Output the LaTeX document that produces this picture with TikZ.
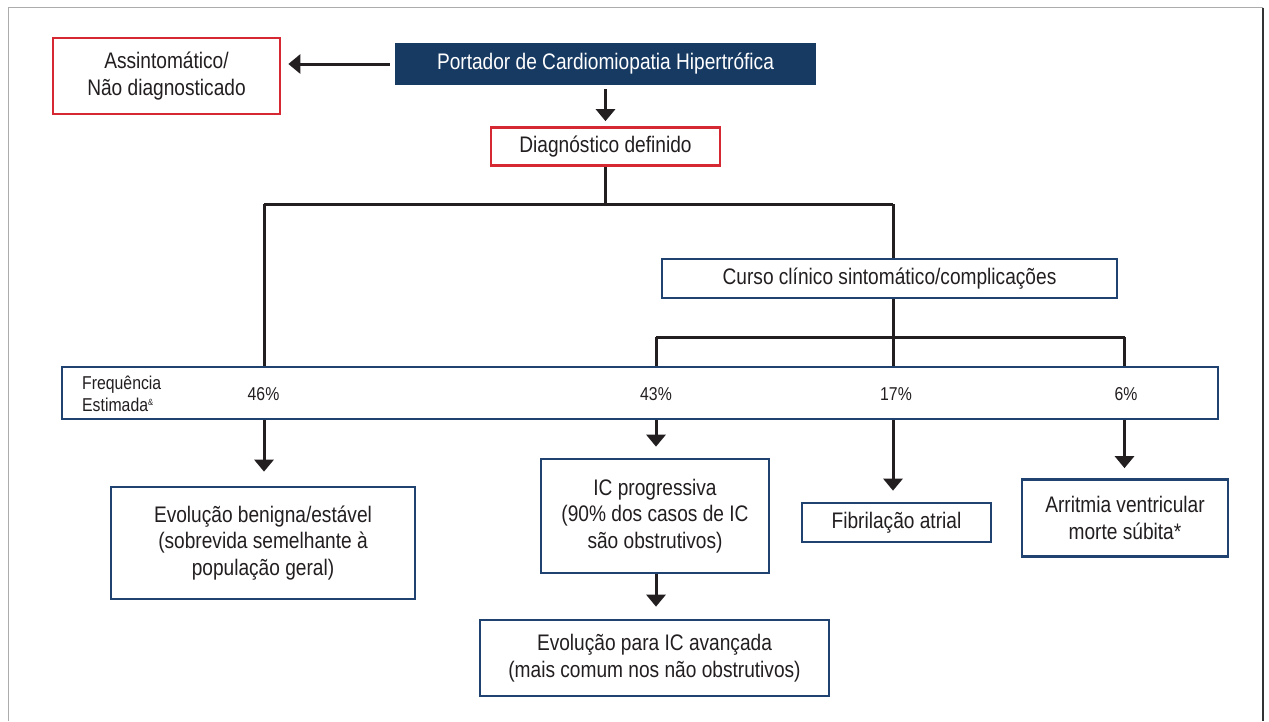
\documentclass[tikz,border=0pt]{standalone}
\usepackage{fontspec}
\setmainfont{Liberation Sans}[FakeStretch=0.85]
\usetikzlibrary{arrows.meta}
\definecolor{redb}{RGB}{214,40,50}
\definecolor{blueb}{RGB}{31,66,112}
\definecolor{bluef}{RGB}{23,58,99}
\definecolor{txt}{RGB}{35,31,32}
\tikzset{
  box/.style={draw, line width=2.7pt, inner sep=0pt, align=center, text=txt,
    font=\fontsize{22.5}{26.5}\selectfont},
  redbox/.style={box, draw=redb},
  bluebox/.style={box, draw=blueb},
  darkbox/.style={box, draw=bluef, fill=bluef, text=white},
  conn/.style={draw=txt, line width=3pt},
  arr/.style={conn, -{Triangle[width=19pt,length=12pt]}},
  pct/.style={text=txt, font=\fontsize{18.6}{22}\selectfont, inner sep=0pt}
}
\begin{document}
\begin{tikzpicture}[x=1pt,y=-1pt]
\useasboundingbox (0,0) rectangle (1269,721);
\fill[white] (0,0) rectangle (1269,721);
\draw[gray!65, line width=1.5pt] (8.5,721) -- (8.5,7.5) -- (1263,7.5);
\draw[black!80, line width=2pt] (1263,7.5) -- (1263,721);

% nodes
\node[redbox, minimum width=227pt, minimum height=76pt] (asym) at (166.5,76) {Assintomático/\\Não diagnosticado};
\node[darkbox, minimum width=419pt, minimum height=40pt] (port) at (605.5,64) {Portador de Cardiomiopatia Hipertrófica};
\node[redbox, minimum width=229pt, minimum height=38pt] (diag) at (605.5,146.5) {Diagnóstico definido};
\node[bluebox, minimum width=455pt, minimum height=39pt] (curso) at (889.5,278.5) {Curso clínico sintomático/complicações};
\node[bluebox, minimum width=1156pt, minimum height=52pt] (bar) at (640,393) {};
\node[bluebox, minimum width=304pt, minimum height=112pt] (benig) at (263,543) {Evolução benigna/estável\\(sobrevida semelhante à\\população geral)};
\node[bluebox, minimum width=228pt, minimum height=114pt] (icprog) at (655,516) {IC progressiva\\(90\% dos casos de IC\\são obstrutivos)};
\node[bluebox, minimum width=189pt, minimum height=39pt] (fib) at (896.5,522.5) {Fibrilação atrial};
\node[bluebox, minimum width=206pt, minimum height=77pt] (arrit) at (1125,518) {Arritmia ventricular\\morte súbita*};
\node[bluebox, minimum width=349pt, minimum height=76pt] (icav) at (654.5,658) {Evolução para IC avançada\\(mais comum nos não obstrutivos)};

% texts inside bar
\node[pct, anchor=west, align=left] (freq) at (82,394) {Frequência\\Estimada\textsuperscript{\fontsize{9}{9}\selectfont\&}};
\node[pct] (p46) at (263.5,394.5) {46\%};
\node[pct] (p43) at (656,394.5) {43\%};
\node[pct] (p17) at (896,394.5) {17\%};
\node[pct] (p6) at (1126,394.5) {6\%};

% coordinates
\coordinate (j1) at (605.5,204);
\coordinate (jl) at (264,204);
\coordinate (jr) at (893,204);
\coordinate (k) at (893,337);
\coordinate (kl) at (656,337);
\coordinate (kr) at (1124.5,337);

% connectors
\draw[arr, shorten <=5pt, shorten >=7pt] (port.west) -- (port.west -| asym.east);
\draw[arr, shorten <=4pt, shorten >=5pt] (port.south) -- (diag.north);
\draw[conn] (diag.south) -- (j1);
\draw[conn] (jl) -- (jr);
\draw[conn] (jl) -- (jl |- bar.north);
\draw[conn] (jr) -- (jr |- curso.north);
\draw[conn] (jr |- curso.south) -- (k |- bar.north);
\draw[conn] (kl) -- (kr);
\draw[conn] (kl) -- (kl |- bar.north);
\draw[conn] (kr) -- (kr |- bar.north);

\draw[arr, shorten >=14pt] (jl |- bar.south) -- (jl |- benig.north);
\draw[arr, shorten >=11pt] (kl |- bar.south) -- (kl |- icprog.north);
\draw[arr, shorten >=11pt] (k |- bar.south) -- (k |- fib.north);
\draw[arr, shorten >=10pt] (kr |- bar.south) -- (kr |- arrit.north);
\draw[arr, shorten >=12pt] (icprog.south -| kl) -- (kl |- icav.north);
\end{tikzpicture}
\end{document}
